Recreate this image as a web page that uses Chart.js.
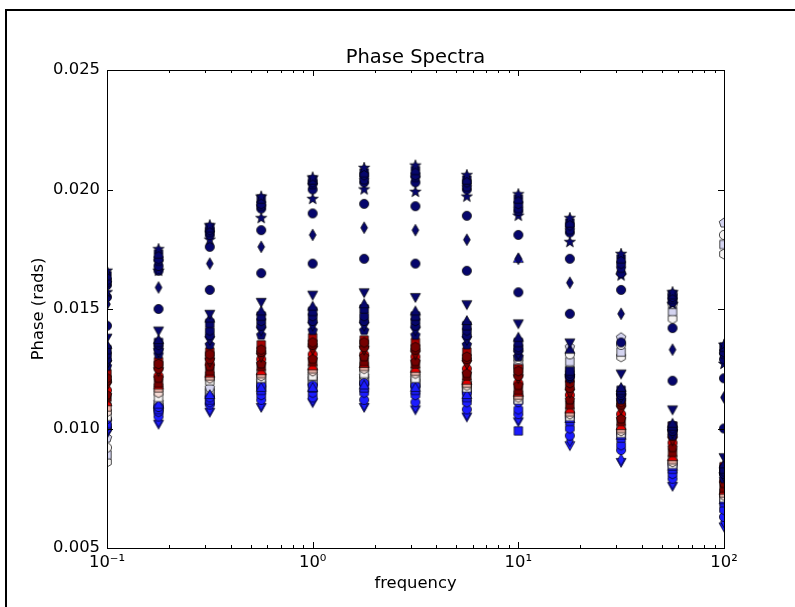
<!DOCTYPE html>
<html>
<head>
<meta charset="utf-8">
<script src="https://cdn.jsdelivr.net/npm/chart.js@4/dist/chart.umd.min.js"></script>
<style>
  html, body { margin: 0; padding: 0; background: #fff; }
  #wrap { position: relative; width: 795px; height: 607px; }
</style>
</head>
<body>
<div id="wrap"><canvas id="phaseChart" width="795" height="607"></canvas></div>
<script>
(function() {
  // frequencies (log x) and the tick labels
  const freqs = [0.1, 0.178, 0.316, 0.562, 1, 1.78, 3.16, 5.62, 10, 17.8, 31.6, 56.2, 100];
  const xTicks = [0.1, 1, 10, 100];
  const xTickLabels = ['10\u207B\u00B9', '10\u2070', '10\u00B9', '10\u00B2'];
  const yTicks = [0.005, 0.010, 0.015, 0.020, 0.025];

  // phase values, one array per marker series
  const topStar    = [0.0166, 0.0175, 0.0185, 0.0197, 0.0205, 0.0209, 0.0210, 0.0206, 0.0198, 0.0188, 0.0173, 0.0157, 0.0135];
  const topSquare  = [0.0164, 0.0173, 0.0184, 0.0196, 0.0204, 0.0207, 0.0208, 0.0204, 0.0196, 0.0186, 0.0171, 0.0156, 0.0134];
  const topHex     = [0.0162, 0.0171, 0.0183, 0.0194, 0.0203, 0.0206, 0.0206, 0.0203, 0.0194, 0.0185, 0.0169, 0.0155, 0.0132];
  const topPent    = [0.0161, 0.0170, 0.0182, 0.0193, 0.0202, 0.0204, 0.0205, 0.0201, 0.0192, 0.0183, 0.0167, 0.0154, 0.0131];
  const topCircle  = [0.0160, 0.0168, 0.0181, 0.0192, 0.0200, 0.0203, 0.0203, 0.0200, 0.0191, 0.0182, 0.0165, 0.0153, 0.0129];
  const lowStar    = [0.0157, 0.0166, 0.0179, 0.0188, 0.0196, 0.0200, 0.0199, 0.0197, 0.0189, 0.0178, 0.0164, 0.0152, 0.0127];
  const midCircleA = [0.0155, 0.0166, 0.0176, 0.0183, 0.0190, 0.0194, 0.0193, 0.0189, 0.0181, 0.0171, 0.0158, 0.0142, 0.0121];
  const midDiamond = [0.0152, 0.0159, 0.0169, 0.0176, 0.0181, 0.0184, 0.0183, 0.0179, 0.0171, 0.0161, 0.0148, 0.0133, 0.0113];
  const midCircleB = [0.0143, 0.0150, 0.0158, 0.0165, 0.0169, 0.0171, 0.0169, 0.0166, 0.0157, 0.0148, 0.0136, 0.0120, 0.0100];
  const midTriDown = [0.0138, 0.0141, 0.0148, 0.0153, 0.0156, 0.0157, 0.0155, 0.0152, 0.0144, 0.0136, 0.0123, 0.0108, 0.0088];
  const midTriUp   = [0.0135, 0.0137, 0.0146, 0.0149, 0.0151, 0.0152, 0.0149, 0.0145, 0.0138, 0.0133, 0.0117, 0.0102, 0.0085];
  const navyA = [0.0133, 0.0136, 0.0144, 0.0147, 0.0149, 0.0150, 0.0147, 0.0143, 0.0136, 0.0124, 0.0116, 0.0101, 0.0083];
  const navyB = [0.0131, 0.0135, 0.0141, 0.0145, 0.0147, 0.0147, 0.0145, 0.0141, 0.0134, 0.0123, 0.0115, 0.0100, 0.0082];
  const navyC = [0.0129, 0.0133, 0.0139, 0.0143, 0.0145, 0.0145, 0.0143, 0.0139, 0.0133, 0.0122, 0.0114, 0.0099, 0.0081];
  const navyD = [0.0127, 0.0132, 0.0137, 0.0141, 0.0143, 0.0143, 0.0141, 0.0137, 0.0131, 0.0121, 0.0113, 0.0098, 0.0080];
  const navyE = [0.0126, 0.0131, 0.0135, 0.0139, 0.0141, 0.0141, 0.0139, 0.0135, 0.0130, 0.0121, 0.0112, 0.0097, 0.0079];
  const red1  = [0.0123, 0.0128, 0.0132, 0.0135, 0.0138, 0.0137, 0.0136, 0.0132, 0.0125, 0.0121, 0.0113, 0.0101, 0.0084];
  const dark1 = [0.0121, 0.0127, 0.0131, 0.0133, 0.0136, 0.0136, 0.0134, 0.0130, 0.0124, 0.0119, 0.0111, 0.0099, 0.0083];
  const dark2 = [0.0120, 0.0125, 0.0129, 0.0132, 0.0135, 0.0134, 0.0133, 0.0129, 0.0122, 0.0117, 0.0110, 0.0097, 0.0081];
  const dark3 = [0.0118, 0.0124, 0.0128, 0.0130, 0.0133, 0.0133, 0.0131, 0.0127, 0.0121, 0.0115, 0.0108, 0.0095, 0.0080];
  const red2  = [0.0116, 0.0122, 0.0127, 0.0129, 0.0131, 0.0131, 0.0130, 0.0125, 0.0119, 0.0114, 0.0106, 0.0094, 0.0078];
  const dark4 = [0.0114, 0.0121, 0.0126, 0.0127, 0.0129, 0.0130, 0.0128, 0.0123, 0.0118, 0.0112, 0.0104, 0.0092, 0.0077];
  const dark5 = [0.0113, 0.0119, 0.0124, 0.0126, 0.0128, 0.0128, 0.0127, 0.0122, 0.0116, 0.0110, 0.0103, 0.0090, 0.0075];
  const red3  = [0.0111, 0.0118, 0.0123, 0.0124, 0.0126, 0.0127, 0.0125, 0.0120, 0.0115, 0.0108, 0.0101, 0.0088, 0.0074];
  const pinkA  = [0.0109, 0.0117, 0.0122, 0.0123, 0.0125, 0.0126, 0.0124, 0.0119, 0.0114, 0.0107, 0.0100, 0.0087, 0.0073];
  const pinkB  = [0.0107, 0.0115, 0.0121, 0.0122, 0.0124, 0.0125, 0.0123, 0.0118, 0.0113, 0.0106, 0.0099, 0.0086, 0.0072];
  const whiteA = [0.0105, 0.0113, 0.0120, 0.0121, 0.0122, 0.0123, 0.0121, 0.0117, 0.0112, 0.0105, 0.0098, 0.0085, 0.0071];
  const light1 = [0.0096, 0.0111, 0.0117, 0.0120, 0.0122, 0.0122, 0.0121, 0.0119, 0.0130, 0.0134, 0.0138, 0.0156, 0.0186];
  const light2 = [0.0092, 0.0110, 0.0116, 0.0119, 0.0121, 0.0121, 0.0120, 0.0118, 0.0129, 0.0131, 0.0135, 0.0152, 0.0181];
  const light3 = [0.0089, 0.0109, 0.0115, 0.0118, 0.0120, 0.0120, 0.0119, 0.0117, 0.0127, 0.0128, 0.0132, 0.0149, 0.0177];
  const light4 = [0.0086, 0.0108, 0.0114, 0.0117, 0.0119, 0.0119, 0.0118, 0.0116, 0.0126, 0.0125, 0.0130, 0.0146, 0.0173];
  const blueTri = [0.0105, 0.0110, 0.0114, 0.0117, 0.0117, 0.0118, 0.0117, 0.0114, 0.0171, 0.0104, 0.0097, 0.0084, 0.0070];
  const blueA = [0.0104, 0.0109, 0.0113, 0.0118, 0.0118, 0.0119, 0.0118, 0.0115, 0.0111, 0.0105, 0.0098, 0.0085, 0.0072];
  const blueB = [0.0102, 0.0108, 0.0112, 0.0116, 0.0117, 0.0117, 0.0116, 0.0113, 0.0099, 0.0103, 0.0096, 0.0083, 0.0069];
  const blueC = [0.0101, 0.0107, 0.0111, 0.0114, 0.0115, 0.0115, 0.0114, 0.0111, 0.0108, 0.0100, 0.0093, 0.0081, 0.0066];
  const blueD = [0.0100, 0.0105, 0.0110, 0.0112, 0.0113, 0.0112, 0.0111, 0.0108, 0.0106, 0.0097, 0.0091, 0.0079, 0.0063];
  const blueE = [0.0099, 0.0103, 0.0108, 0.0110, 0.0112, 0.0110, 0.0109, 0.0106, 0.0104, 0.0095, 0.0087, 0.0077, 0.0061];
  const blueF = [0.0098, 0.0102, 0.0107, 0.0109, 0.0111, 0.0109, 0.0108, 0.0105, 0.0103, 0.0093, 0.0086, 0.0076, 0.0059];

  const NAVY = '#06066c', DKRED = '#760000', MIDRED = '#a80000', RED = '#e00000', PINK = '#eeb4aa',
        PALE = '#f6dcd6', WHITE = '#f6f4f4', LAV = '#d4d4f0', BLUE = '#1c1cff';

  // Chart.js paints dataset 0 last, so the first rows end up on top
  const series = [
    [topStar, '*', NAVY], [topSquare, 's', NAVY], [topHex, 'h', NAVY], [topPent, 'p', NAVY], [topCircle, 'o', NAVY],
    [lowStar, '*', NAVY], [midCircleA, 'o', NAVY], [midDiamond, 'd', NAVY], [midCircleB, 'o', NAVY],
    [midTriDown, 'v', NAVY], [midTriUp, '^', NAVY],
    [navyA, 's', NAVY], [navyB, 'h', NAVY], [navyC, 'o', NAVY], [navyD, 'v', NAVY], [navyE, 'p', NAVY],
    [dark1, 'h', DKRED], [dark2, 'o', DKRED], [dark3, 'v', DKRED], [dark4, 'p', DKRED], [dark5, 's', DKRED],
    [red1, 's', MIDRED], [red2, 'o', RED], [red3, '^', RED],
    [pinkA, 's', PINK], [pinkB, 'h', PALE], [whiteA, 's', WHITE],
    [blueTri, '^', BLUE], [blueA, 'o', BLUE], [blueB, 's', BLUE], [blueC, 'h', BLUE], [blueD, 'o', BLUE],
    [blueE, 'd', BLUE], [blueF, 'v', BLUE],
    [light1, 'p', LAV], [light2, 'o', WHITE], [light3, 's', LAV], [light4, 'h', WHITE]
  ];

  const markerCache = {};
  function marker(shape, fill) {
    const key = shape + fill;
    if (markerCache[key]) return markerCache[key];
    const c = document.createElement('canvas');
    c.width = c.height = 14;
    const g = c.getContext('2d');
    const m = 7;
    const poly = (pts) => { g.moveTo(m + pts[0][0], m + pts[0][1]); pts.slice(1).forEach(p => g.lineTo(m + p[0], m + p[1])); };
    const ring = (n, r, rot, inner) => {
      const pts = [];
      const k = inner ? n * 2 : n;
      for (let i = 0; i < k; i++) {
        const a = rot + i * Math.PI * 2 / k;
        const rr = inner && i % 2 ? inner : r;
        pts.push([rr * Math.cos(a), rr * Math.sin(a)]);
      }
      return pts;
    };
    g.beginPath();
    if (shape === 'o') g.arc(m, m, 4.6, 0, Math.PI * 2);
    else if (shape === 's') g.rect(m - 4.2, m - 4.2, 8.4, 8.4);
    else if (shape === '^') poly([[0, -5.4], [5, 3.6], [-5, 3.6]]);
    else if (shape === 'v') poly([[0, 5.4], [5, -3.6], [-5, -3.6]]);
    else if (shape === 'd') poly([[0, -5.8], [3.4, 0], [0, 5.8], [-3.4, 0]]);
    else if (shape === 'p') poly(ring(5, 5, -Math.PI / 2));
    else if (shape === 'h') poly(ring(6, 5, -Math.PI / 2));
    else if (shape === '*') poly(ring(5, 5.8, -Math.PI / 2, 2.4));
    g.closePath();
    g.fillStyle = fill;
    g.fill();
    g.lineWidth = 0.7;
    g.strokeStyle = '#000';
    g.stroke();
    markerCache[key] = c;
    return c;
  }

  const datasets = series.map(([vals, shape, colour]) => ({
    data: freqs.map((f, i) => ({ x: f, y: vals[i] })),
    pointStyle: marker(shape, colour),
    pointRadius: 5,
    showLine: false,
    clip: 0
  }));

  const FONT = '"DejaVu Sans", sans-serif';

  const framePlugin = {
    id: 'framePlugin',
    beforeDraw(chart) {
      const ctx = chart.ctx;
      ctx.save();
      ctx.fillStyle = '#fff';
      ctx.fillRect(0, 0, chart.width, chart.height);
      ctx.fillStyle = '#000';
      ctx.fillRect(5, 9, 2, chart.height);
      ctx.fillRect(5, 9, chart.width, 2);
      ctx.restore();
    },
    afterDatasetsDraw(chart) {
      const ctx = chart.ctx;
      const a = chart.chartArea;
      const xs = chart.scales.x, ys = chart.scales.y;
      ctx.save();
      ctx.strokeStyle = '#000';
      ctx.lineWidth = 1;
      ctx.beginPath();
      // inward ticks on all four sides
      xTicks.forEach(v => {
        const px = Math.round(xs.getPixelForValue(v)) + 0.5;
        ctx.moveTo(px, a.bottom); ctx.lineTo(px, a.bottom - 6);
        ctx.moveTo(px, a.top); ctx.lineTo(px, a.top + 6);
      });
      for (let d = -1; d <= 1; d++) {
        for (let k = 2; k <= 9; k++) {
          const px = Math.round(xs.getPixelForValue(k * Math.pow(10, d))) + 0.5;
          ctx.moveTo(px, a.bottom); ctx.lineTo(px, a.bottom - 3);
          ctx.moveTo(px, a.top); ctx.lineTo(px, a.top + 3);
        }
      }
      yTicks.forEach(v => {
        const py = Math.round(ys.getPixelForValue(v)) + 0.5;
        ctx.moveTo(a.left, py); ctx.lineTo(a.left + 6, py);
        ctx.moveTo(a.right, py); ctx.lineTo(a.right - 6, py);
      });
      ctx.stroke();
      ctx.strokeRect(Math.round(a.left) + 0.5, Math.round(a.top) + 0.5,
        Math.round(a.right - a.left), Math.round(a.bottom - a.top));

      ctx.fillStyle = '#000';
      ctx.textAlign = 'center';
      ctx.textBaseline = 'alphabetic';
      ctx.font = '19.5px ' + FONT;
      ctx.fillText('Phase Spectra', (a.left + a.right) / 2, 63);
      ctx.font = '16.4px ' + FONT;
      ctx.fillText('frequency', (a.left + a.right) / 2, 588);
      ctx.translate(43, (a.top + a.bottom) / 2);
      ctx.rotate(-Math.PI / 2);
      ctx.fillText('Phase (rads)', 0, 0);
      ctx.restore();
    }
  };

  new Chart(document.getElementById('phaseChart').getContext('2d'), {
    type: 'scatter',
    data: { datasets },
    options: {
      responsive: false,
      animation: false,
      events: [],
      layout: { padding: { left: 0, right: 71, top: 70, bottom: 0 } },
      plugins: { legend: { display: false }, tooltip: { enabled: false }, title: { display: false } },
      scales: {
        x: {
          type: 'logarithmic',
          min: 0.1, max: 100,
          grid: { display: false, drawTicks: false },
          border: { display: false },
          afterBuildTicks: s => { s.ticks = xTicks.map(v => ({ value: v })); },
          afterFit: s => { s.height = 59; },
          ticks: {
            padding: 5,
            color: '#000',
            font: { family: FONT, size: 16.4 },
            maxRotation: 0, autoSkip: false,
            callback: v => xTickLabels[xTicks.indexOf(v)] || ''
          }
        },
        y: {
          min: 0.005, max: 0.025,
          grid: { display: false, drawTicks: false },
          border: { display: false },
          afterBuildTicks: s => { s.ticks = yTicks.map(v => ({ value: v })); },
          afterFit: s => { s.width = 107; },
          ticks: {
            padding: 7,
            color: '#000',
            font: { family: FONT, size: 16.4 },
            callback: v => Number(v).toFixed(3)
          }
        }
      }
    },
    plugins: [framePlugin]
  });
})();
</script>
</body>
</html>
